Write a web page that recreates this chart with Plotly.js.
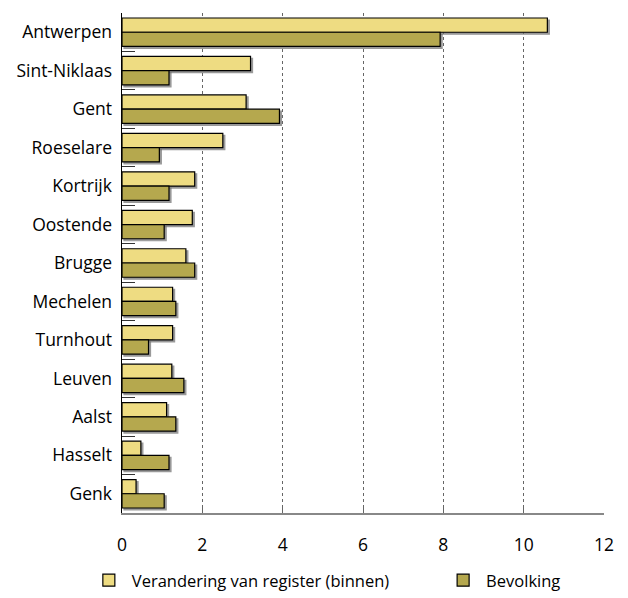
<!DOCTYPE html>
<html>
<head>
<meta charset="utf-8">
<script src="https://cdn.plot.ly/plotly-3.0.1.min.js"></script>
<style>
html,body{margin:0;padding:0;background:#fff;}
#chart{width:628px;height:598px;}
.trace.bars path{filter:drop-shadow(2px 2px 0px rgba(110,110,110,0.7));}
</style>
</head>
<body>
<div id="chart"></div>
<script>
const cities = ["Antwerpen","Sint-Niklaas","Gent","Roeselare","Kortrijk","Oostende","Brugge","Mechelen","Turnhout","Leuven","Aalst","Hasselt","Genk"];
const registerChange = [10.59,3.2,3.09,2.51,1.81,1.75,1.59,1.26,1.26,1.24,1.11,0.47,0.35];
const population = [7.92,1.17,3.92,0.93,1.17,1.05,1.81,1.34,0.66,1.54,1.34,1.17,1.05];
const seriesNames = ["Verandering van register (binnen)","Bevolking"];
const xTicks = [0,2,4,6,8,10,12];

const traces = [
  {type:"bar", orientation:"h", name:seriesNames[0], y:cities, x:registerChange, legend:"legend",
   marker:{color:"#EEDC82", line:{color:"#000", width:1.2}}},
  {type:"bar", orientation:"h", name:seriesNames[1], y:cities, x:population, legend:"legend2",
   marker:{color:"#B5A84E", line:{color:"#000", width:1.2}}}
];

const layout = {
  width:628, height:598,
  margin:{l:122, r:24, t:13, b:85, autoexpand:false},
  paper_bgcolor:"#fff", plot_bgcolor:"#fff",
  font:{family:"Open Sans, sans-serif", size:17.5, color:"#000"},
  barmode:"group", bargap:0.26, bargroupgap:0,
  showlegend:true,
  legend:{orientation:"h", x:-0.075, xanchor:"left", y:-0.1, yanchor:"top",
          font:{size:16.5}, bgcolor:"rgba(0,0,0,0)", itemwidth:36},
  legend2:{orientation:"h", x:0.66, xanchor:"left", y:-0.1, yanchor:"top",
          font:{size:16.5}, bgcolor:"rgba(0,0,0,0)", itemwidth:36},
  xaxis:{range:[0,12], tickvals:xTicks, ticktext:xTicks.map(String),
         showgrid:true, gridcolor:"#666", griddash:"dot", gridwidth:1,
         showline:true, linecolor:"#888", linewidth:1.5,
         ticks:"inside", ticklen:5, tickcolor:"#666",
         ticklabelstandoff:15, zeroline:false, fixedrange:true},
  yaxis:{autorange:"reversed", type:"category",
         showline:true, linecolor:"#000", linewidth:1.5,
         ticks:"inside", tickson:"boundaries", ticklen:13, tickcolor:"#333",
         showgrid:false, zeroline:false, ticklabelstandoff:5}
};

Plotly.newPlot("chart", traces, layout, {displayModeBar:false, staticPlot:true});
</script>
</body>
</html>
